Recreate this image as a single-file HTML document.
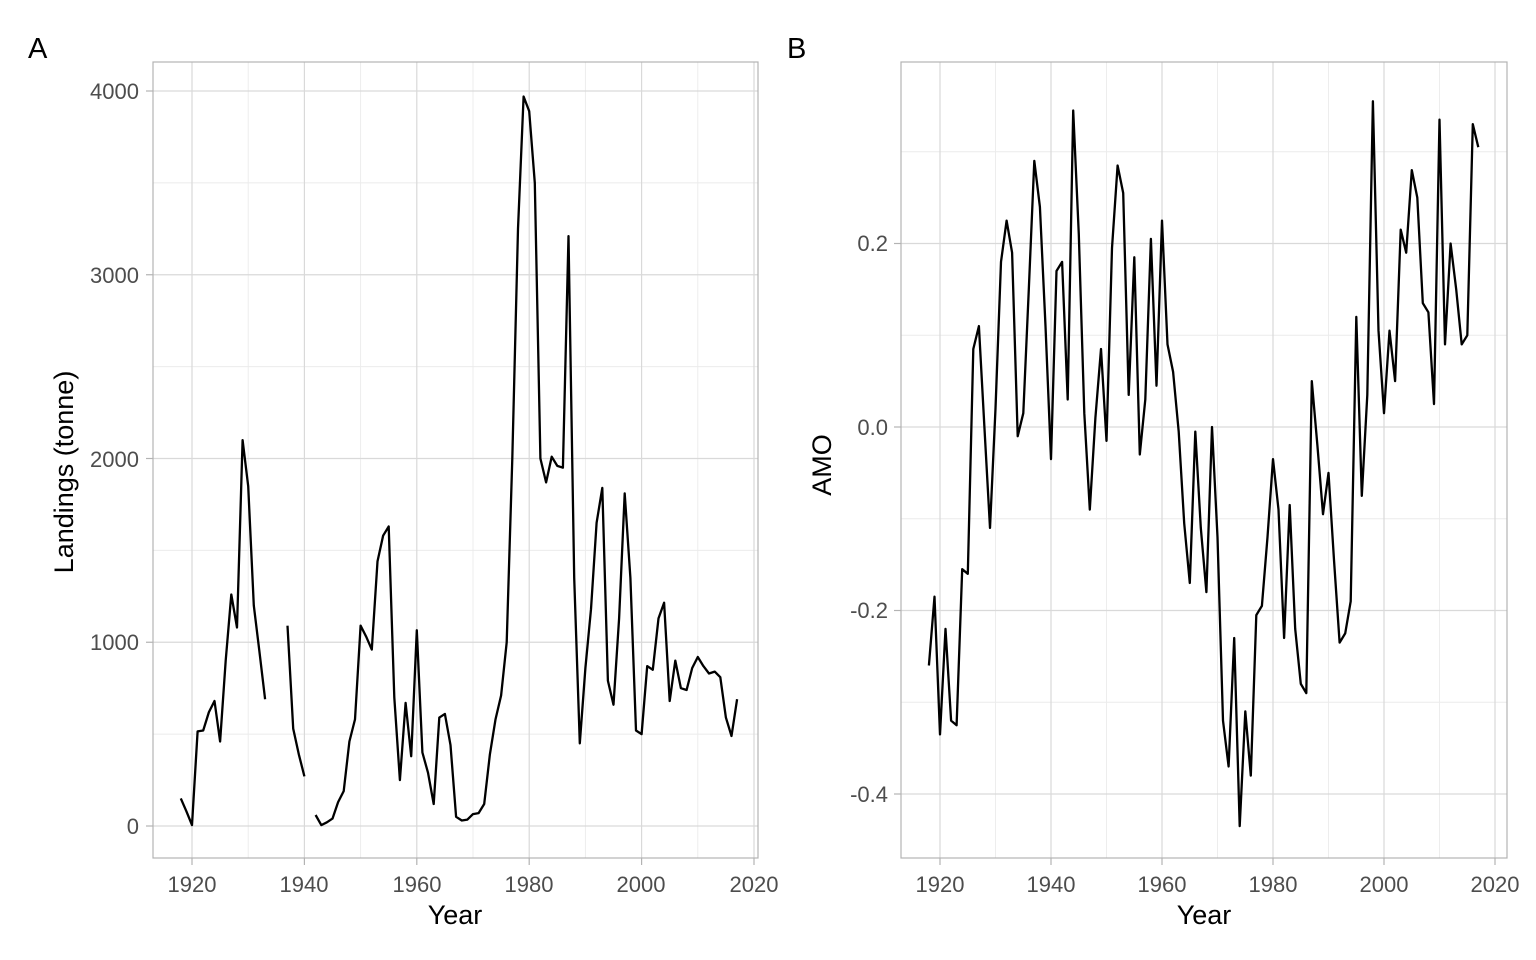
<!DOCTYPE html>
<html><head><meta charset="utf-8"><style>
html,body{margin:0;padding:0;background:#fff}
svg{display:block;font-family:"Liberation Sans",Arial,sans-serif}
.tk{font-size:22px;fill:#4d4d4d}
.ti{font-size:27px;fill:#000}
.mj{stroke:#d9d9d9;stroke-width:1.2}
.mn{stroke:#ebebeb;stroke-width:0.9}
.tm{stroke:#b3b3b3;stroke-width:1.2}
</style></head><body>
<svg id="s" width="1536" height="960" viewBox="0 0 1536 960">
<rect width="1536" height="960" fill="#fff"/>
<g id="grid"></g>
<rect x="153" y="62" width="605" height="796" fill="none" stroke="#b3b3b3" stroke-width="1.2"/>
<rect x="901" y="62" width="606" height="796" fill="none" stroke="#b3b3b3" stroke-width="1.2"/>
<g id="lines"></g>
<text x="28" y="58" style="font-size:29px">A</text>
<text x="787" y="58" style="font-size:29px">B</text>
<g class="tk" text-anchor="end">
<text x="139" y="834">0</text><text x="139" y="650">1000</text><text x="139" y="467">2000</text><text x="139" y="283">3000</text><text x="139" y="99">4000</text>
<text x="888" y="251">0.2</text><text x="888" y="435">0.0</text><text x="888" y="618">-0.2</text><text x="888" y="802">-0.4</text>
</g>
<g class="tk" text-anchor="middle">
<text x="192" y="892">1920</text><text x="304" y="892">1940</text><text x="417" y="892">1960</text><text x="529" y="892">1980</text><text x="641" y="892">2000</text><text x="754" y="892">2020</text>
<text x="940" y="892">1920</text><text x="1051" y="892">1940</text><text x="1162" y="892">1960</text><text x="1273" y="892">1980</text><text x="1384" y="892">2000</text><text x="1495" y="892">2020</text>
</g>
<text class="ti" x="455" y="924" text-anchor="middle">Year</text>
<text class="ti" x="1204" y="924" text-anchor="middle">Year</text>
<text class="ti" transform="translate(73,472) rotate(-90)" text-anchor="middle">Landings (tonne)</text>
<text class="ti" transform="translate(831,465) rotate(-90)" text-anchor="middle">AMO</text>
</svg>
<script>
var NS="http://www.w3.org/2000/svg";
function ln(g,c,x1,y1,x2,y2){var l=document.createElementNS(NS,"line");l.setAttribute("x1",x1);l.setAttribute("y1",y1);l.setAttribute("x2",x2);l.setAttribute("y2",y2);l.setAttribute("class",c);g.appendChild(l);}
var G=document.getElementById("grid"),L=document.getElementById("lines");
function ax(y){return 192+(y-1920)*5.62;} function ay(v){return 826-v*0.18375;}
function bx(y){return 940+(y-1920)*5.55;} function by(v){return 427-v*917.5;}
for(var y=1930;y<=2010;y+=20){ln(G,"mn",ax(y),62,ax(y),858);ln(G,"mn",bx(y),62,bx(y),858);}
for(var v=500;v<=3500;v+=1000)ln(G,"mn",153,ay(v),758,ay(v));
[-0.3,-0.1,0.1,0.3].forEach(function(v){ln(G,"mn",901,by(v),1507,by(v));});
for(var y=1920;y<=2020;y+=20){ln(G,"mj",ax(y),62,ax(y),858);ln(G,"mj",bx(y),62,bx(y),858);ln(G,"tm",ax(y),858,ax(y),865);ln(G,"tm",bx(y),858,bx(y),865);}
for(var v=0;v<=4000;v+=1000){ln(G,"mj",153,ay(v),758,ay(v));ln(G,"tm",146,ay(v),153,ay(v));}
[-0.4,-0.2,0,0.2].forEach(function(v){ln(G,"mj",901,by(v),1507,by(v));ln(G,"tm",894,by(v),901,by(v));});
var A={1918:150,1919:80,1920:5,1921:515,1922:520,1923:620,1924:680,1925:460,1926:900,1927:1260,1928:1080,1929:2100,1930:1850,1931:1200,1932:950,1933:690,1937:1090,1938:530,1939:390,1940:270,1942:60,1943:5,1944:20,1945:40,1946:130,1947:190,1948:460,1949:580,1950:1090,1951:1030,1952:960,1953:1440,1954:1580,1955:1630,1956:700,1957:250,1958:670,1959:380,1960:1065,1961:400,1962:290,1963:120,1964:590,1965:610,1966:440,1967:50,1968:30,1969:35,1970:65,1971:70,1972:120,1973:390,1974:580,1975:710,1976:1000,1977:2000,1978:3250,1979:3970,1980:3890,1981:3500,1982:2000,1983:1870,1984:2010,1985:1960,1986:1950,1987:3210,1988:1350,1989:450,1990:860,1991:1180,1992:1650,1993:1840,1994:790,1995:660,1996:1130,1997:1810,1998:1350,1999:520,2000:500,2001:870,2002:850,2003:1130,2004:1215,2005:680,2006:900,2007:750,2008:740,2009:860,2010:920,2011:870,2012:830,2013:840,2014:810,2015:590,2016:490,2017:690};
var B=[-0.26,-0.185,-0.335,-0.22,-0.32,-0.325,-0.155,-0.16,0.085,0.11,0.0,-0.11,0.02,0.18,0.225,0.19,-0.01,0.015,0.15,0.29,0.24,0.11,-0.035,0.17,0.18,0.03,0.345,0.21,0.015,-0.09,0.01,0.085,-0.015,0.195,0.285,0.255,0.035,0.185,-0.03,0.03,0.205,0.045,0.225,0.09,0.06,-0.005,-0.105,-0.17,-0.005,-0.11,-0.18,0.0,-0.12,-0.32,-0.37,-0.23,-0.435,-0.31,-0.38,-0.205,-0.195,-0.12,-0.035,-0.09,-0.23,-0.085,-0.22,-0.28,-0.29,0.05,-0.02,-0.095,-0.05,-0.145,-0.235,-0.225,-0.19,0.12,-0.075,0.035,0.355,0.105,0.015,0.105,0.05,0.215,0.19,0.28,0.25,0.135,0.125,0.025,0.335,0.09,0.2,0.15,0.09,0.1,0.33,0.305];
function pl(pts){var p=document.createElementNS(NS,"polyline");p.setAttribute("points",pts.join(" "));p.setAttribute("fill","none");p.setAttribute("stroke","#000");p.setAttribute("stroke-width","2.3");p.setAttribute("stroke-linejoin","round");L.appendChild(p);}
var seg=[];for(var y=1918;y<=2017;y++){if(A[y]!==undefined)seg.push(ax(y).toFixed(1)+","+ay(A[y]).toFixed(1));else{if(seg.length)pl(seg);seg=[];}}if(seg.length)pl(seg);
var pb=[];B.forEach(function(v,i){pb.push(bx(1918+i).toFixed(1)+","+by(v).toFixed(1));});pl(pb);
</script>
</body></html>
